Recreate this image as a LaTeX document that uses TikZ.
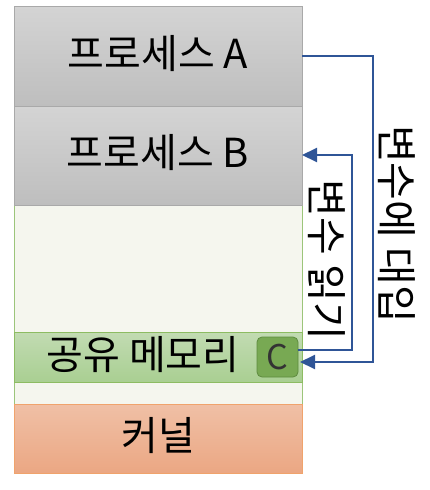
\documentclass[tikz,border=0pt]{standalone}
\usepackage{fontspec}
\setmainfont{Noto Sans CJK KR}
\usetikzlibrary{arrows.meta}
\definecolor{grayTop}{HTML}{D4D4D4}
\definecolor{grayBot}{HTML}{BEBEBE}
\definecolor{grayLine}{HTML}{A9A9A9}
\definecolor{memFill}{HTML}{F5F6EE}
\definecolor{memLine}{HTML}{9CC57A}
\definecolor{shTop}{HTML}{C2DBB2}
\definecolor{shBot}{HTML}{A9CF92}
\definecolor{shLine}{HTML}{8DBC62}
\definecolor{cFill}{HTML}{78A953}
\definecolor{cLine}{HTML}{5E8B3F}
\definecolor{kTop}{HTML}{F0C0A6}
\definecolor{kBot}{HTML}{EBA783}
\definecolor{kLine}{HTML}{F0A36C}
\definecolor{arrBlue}{HTML}{2F5597}
\tikzset{
  procbox/.style={draw=grayLine, line width=0.8pt, top color=grayTop, bottom color=grayBot},
  lbl/.style={font=\fontsize{40}{46}\selectfont, text=black},
  vlbl/.style={font=\fontsize{41}{46}\selectfont, text=black, rotate=-90},
  arr/.style={draw=arrBlue, line width=2pt, -{Triangle[length=15pt,width=14pt]}},
}
\begin{document}
\begin{tikzpicture}[x=1pt,y=-1pt]
\useasboundingbox (0,0) rectangle (430,490);
% memory region
\draw[draw=memLine, line width=0.8pt, fill=memFill] (14,205) rectangle (302,404);
% processes
\draw[procbox] (14,6) rectangle (302,106);
\draw[procbox] (14,106) rectangle (302,205);
\node[lbl] (pa) at (158,54) {프로세스 A};
\node[lbl] (pb) at (158,153) {프로세스 B};
\coordinate (paE) at (302,56);
\coordinate (pbE) at (302,155);
% shared memory band
\draw[draw=shLine, line width=0.8pt, top color=shTop, bottom color=shBot] (14,332) rectangle (302,382);
\node[lbl] (shm) at (143,355) {공유 메모리};
\node[draw=cLine, line width=0.8pt, fill=cFill, rounded corners=5pt, minimum width=41pt, minimum height=40pt, inner sep=0pt, text=black!80, font=\fontsize{34}{38}\selectfont] (c) at (277.5,357) {C};
% kernel
\draw[draw=kLine, line width=0.8pt, top color=kTop, bottom color=kBot] (14,404) rectangle (302,473);
\node[lbl] (k) at (158,436) {커널};
% arrows
\coordinate (cin) at (300,362);
\coordinate (cout) at (298,350);
\draw[arr] (paE) -- (373,56) -- (373,362) -- (cin);
\draw[arr] (cout) -- (352,350) -- (352,155) -- (pbE);
\node[vlbl] (t1) at (397,224) {변수에 대입};
\node[vlbl] (t2) at (327,260) {변수 읽기};
\end{tikzpicture}
\end{document}
